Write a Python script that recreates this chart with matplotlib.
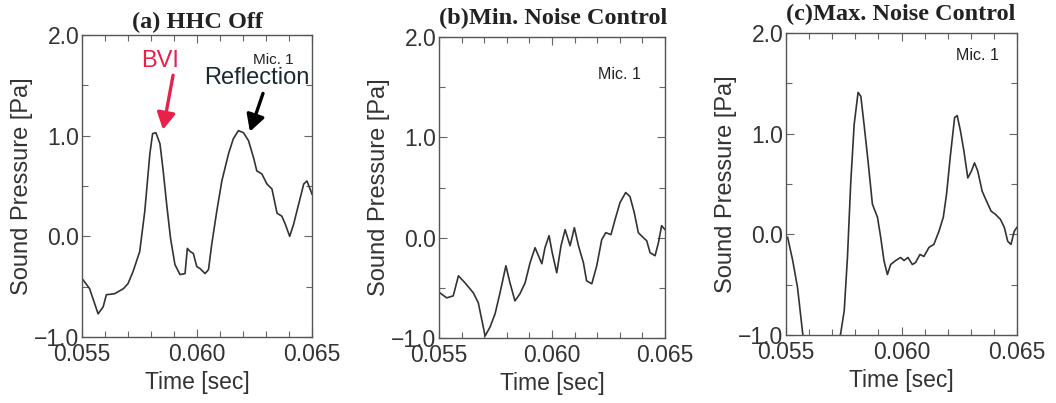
import numpy as np
import matplotlib
matplotlib.use('Agg')
import matplotlib.pyplot as plt
from matplotlib.ticker import MultipleLocator

# (a) HHC Off
t_a = [0.05504, 0.05533, 0.0557, 0.05592, 0.05606, 0.05642, 0.0568, 0.057, 0.05722,
       0.05751, 0.05773, 0.05795, 0.05807, 0.05821, 0.05839, 0.05853, 0.05868, 0.05885,
       0.05904, 0.05926, 0.05948, 0.05958, 0.0597, 0.05984, 0.05999, 0.06013, 0.06035,
       0.0605, 0.06064, 0.06086, 0.06108, 0.06137, 0.06158, 0.0618, 0.06202, 0.06224,
       0.06246, 0.0626, 0.06282, 0.06304, 0.06326, 0.06348, 0.06369, 0.06384, 0.06403,
       0.0642, 0.06442, 0.06464, 0.06478, 0.065]
p_a = [-0.43, -0.52, -0.77, -0.70, -0.58, -0.57, -0.52, -0.47, -0.35,
       -0.15, 0.25, 0.82, 1.02, 1.03, 0.92, 0.65, 0.32, -0.02,
       -0.28, -0.38, -0.37, -0.12, -0.15, -0.17, -0.30, -0.32, -0.37,
       -0.33, -0.08, 0.25, 0.55, 0.82, 0.97, 1.05, 1.03, 0.95,
       0.78, 0.65, 0.62, 0.52, 0.47, 0.23, 0.20, 0.12, 0.0,
       0.12, 0.32, 0.52, 0.55, 0.42]

# (b) Min. Noise Control
t_b = [0.05504, 0.05534, 0.05563, 0.05586, 0.05615, 0.05652, 0.05674, 0.05704, 0.05726,
       0.05748, 0.0577, 0.05796, 0.05814, 0.05836, 0.05858, 0.05881, 0.05903, 0.05925,
       0.0594, 0.05955, 0.05969, 0.05987, 0.06001, 0.06021, 0.0604, 0.06058, 0.0608,
       0.06099, 0.06117, 0.06139, 0.06153, 0.06176, 0.06198, 0.0622, 0.06238, 0.06261,
       0.06279, 0.06301, 0.06326, 0.06345, 0.06364, 0.06382, 0.06404, 0.06419, 0.06434,
       0.06456, 0.06471, 0.06485, 0.065]
p_b = [-0.55, -0.60, -0.58, -0.38, -0.45, -0.55, -0.65, -0.98, -0.89,
       -0.76, -0.55, -0.28, -0.45, -0.63, -0.56, -0.45, -0.25, -0.10,
       -0.18, -0.26, -0.10, 0.02, -0.15, -0.35, -0.08, 0.08, -0.08,
       0.10, -0.08, -0.25, -0.43, -0.46, -0.28, -0.02, 0.05, 0.03,
       0.18, 0.35, 0.45, 0.41, 0.25, 0.05, 0.0, -0.03, -0.15,
       -0.18, -0.05, 0.12, 0.08]

# (c) Max. Noise Control
t_c = [0.05507, 0.05529, 0.0555, 0.05572, 0.0565, 0.05737, 0.05752, 0.05766, 0.0578,
       0.05795, 0.05812, 0.05824, 0.05838, 0.05855, 0.05874, 0.05896, 0.0591, 0.05924,
       0.05939, 0.05953, 0.05975, 0.05996, 0.06011, 0.06028, 0.06047, 0.06061, 0.0608,
       0.06097, 0.06119, 0.0614, 0.06162, 0.06181, 0.06195, 0.06212, 0.0623, 0.06241,
       0.06255, 0.0627, 0.06287, 0.06303, 0.06316, 0.0633, 0.06349, 0.06368, 0.06388,
       0.06406, 0.06428, 0.06445, 0.0646, 0.06474, 0.06488, 0.065]
p_c = [-0.03, -0.26, -0.53, -0.98, -2.0, -0.98, -0.76, -0.23, 0.50,
       1.09, 1.41, 1.37, 1.09, 0.73, 0.30, 0.17, -0.03, -0.26,
       -0.40, -0.30, -0.26, -0.23, -0.26, -0.23, -0.30, -0.28, -0.20,
       -0.22, -0.13, -0.10, 0.03, 0.17, 0.40, 0.79, 1.16, 1.18,
       1.03, 0.83, 0.56, 0.63, 0.71, 0.63, 0.43, 0.33, 0.23,
       0.20, 0.15, 0.07, -0.07, -0.10, 0.03, 0.07]

titles = ['(a) HHC Off', '(b)Min. Noise Control', '(c)Max. Noise Control']
series = [(t_a, p_a), (t_b, p_b), (t_c, p_c)]

# posicoes dos eixos em pixels (esquerda, baixo, largura, altura)
W, H = 1056, 403
boxes = [(82, 66, 230, 302), (439, 65, 226, 301), (786, 68, 231, 302)]

fig = plt.figure(figsize=(W / 100, H / 100), dpi=100)
sans = 'Liberation Sans'
serif = 'Liberation Serif'

axes = []
for i, (box, (t, p)) in enumerate(zip(boxes, series)):
    l, b, w, h = box
    ax = fig.add_axes([l / W, b / H, w / W, h / H])
    ax.plot(t, p, color='#333333', lw=1.2)
    ax.set_xlim(0.055, 0.065)
    ax.set_ylim(-1.0, 2.0)
    ax.set_xticks([0.055, 0.060, 0.065])
    ax.set_xticklabels(['0.055', '0.060', '0.065'])
    ax.set_yticks([-1.0, 0.0, 1.0, 2.0])
    ax.set_yticklabels(['\u22121.0', '0.0', '1.0', '2.0'])
    ax.xaxis.set_minor_locator(MultipleLocator(0.001))
    ax.yaxis.set_minor_locator(MultipleLocator(0.5))
    ax.tick_params(which='both', direction='in', top=True, right=True,
                   color='#666666', width=0.8)
    ax.tick_params(which='major', length=6, labelsize=16.5)
    ax.tick_params(axis='x', which='major', pad=4)
    ax.tick_params(axis='y', which='major', pad=2)
    ax.tick_params(which='minor', length=4)
    for lab in ax.get_xticklabels() + ax.get_yticklabels():
        lab.set_fontfamily(sans)
        lab.set_color('#333333')
    for s in ax.spines.values():
        s.set_color('#555555')
        s.set_linewidth(1.0)
    ax.set_xlabel('Time [sec]', fontsize=16.5, family=sans, color='#333333', labelpad=4)
    ax.set_ylabel('Sound Pressure [Pa]', fontsize=17, family=sans, color='#333333', labelpad=1)
    axes.append(ax)

# titulos
axes[0].text(0.5, 1.04, titles[0], transform=axes[0].transAxes, ha='center', va='center',
             fontsize=17.5, fontweight='bold', family=serif, color='#222222')
axes[1].text(0.0, 1.06, titles[1], transform=axes[1].transAxes, ha='left', va='center',
             fontsize=17.5, fontweight='bold', family=serif, color='#222222')
axes[2].text(0.0, 1.06, titles[2], transform=axes[2].transAxes, ha='left', va='center',
             fontsize=17.5, fontweight='bold', family=serif, color='#222222')

# anotacoes do painel (a)
ax = axes[0]
seta = dict(arrowstyle='-|>,head_length=1.0,head_width=0.55', lw=2.4,
            shrinkA=0, shrinkB=0)
ax.annotate('', xy=(0.05852, 1.06), xytext=(0.05896, 1.60),
            arrowprops=dict(seta, color='#e8204a'))
ax.text(0.05839, 1.74, 'BVI', color='#e8204a', fontsize=17, family=sans,
        ha='center', va='center')
ax.annotate('', xy=(0.0623, 1.04), xytext=(0.06287, 1.42),
            arrowprops=dict(seta, color='black'))
ax.text(0.06258, 1.57, 'Reflection', color='#1a2a30', fontsize=17, family=sans,
        ha='center', va='center')
ax.text(0.0633, 1.75, 'Mic. 1', color='#222222', fontsize=11, family=sans,
        ha='center', va='center')

axes[1].text(0.80, 0.874, 'Mic. 1', transform=axes[1].transAxes, color='#222222',
             fontsize=11.5, family=sans, ha='center', va='center')
axes[2].text(0.83, 0.924, 'Mic. 1', transform=axes[2].transAxes, color='#222222',
             fontsize=11.5, family=sans, ha='center', va='center')

fig.savefig('out.png', dpi=100)
